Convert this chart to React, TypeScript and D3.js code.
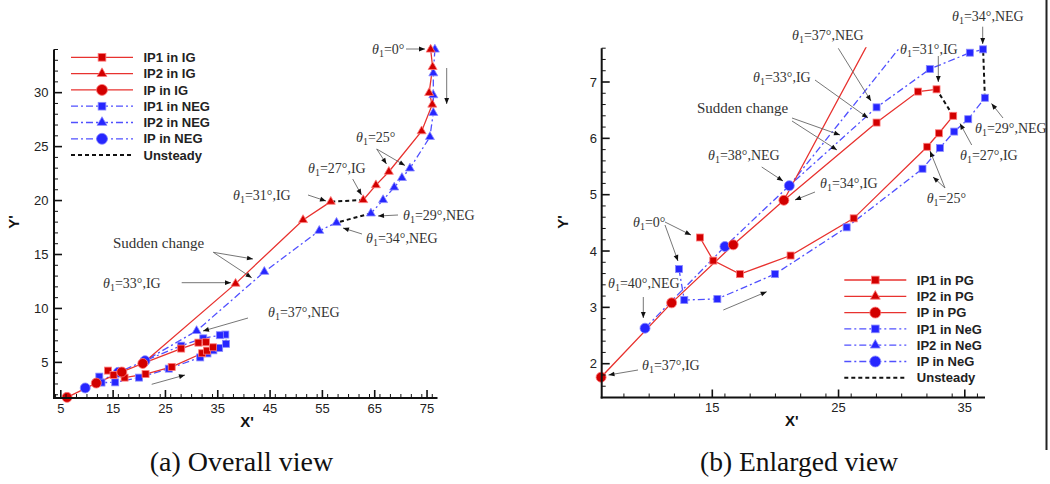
import React from 'react';
import * as d3 from 'd3';

type Pt = [number, number];

// Ideal gas (IG): θ1 = 0,5,10,15,20,25,26,27 before the jump
const ip1IGPre: Pt[] = [[14.02, 4.24], [15.08, 3.83], [17.19, 3.59], [21.2, 3.92], [26.2, 4.58], [32.02, 5.85], [32.95, 6.09], [34.08, 6.4]];
// θ1 = 31,32,33 after the jump
const ip1IGPost: Pt[] = [[32.76, 6.87], [31.3, 6.83], [28.01, 6.28]];
const ip2IGPre: Pt[] = [[75.69, 34.0], [76.07, 32.39], [75.4, 29.98], [76.0, 28.9], [73.97, 26.43], [67.7, 22.67], [65.23, 21.43], [62.8, 20.05]];
const ip2IGPost: Pt[] = [[56.6, 19.9], [51.3, 18.2], [38.4, 12.3]];
// θ1 = 34..37, single intersection point
const ipIG: Pt[] = [[20.67, 4.9], [16.66, 4.11], [11.78, 3.08], [6.19, 1.76]];

// Non-equilibrium gas (NEG): θ1 = 0,5,10,15,20,25,26,27,28,29 before the jump
const ip1NEGPre: Pt[] = [[12.36, 3.68], [12.78, 3.13], [15.4, 3.15], [19.96, 3.59], [25.64, 4.42], [31.65, 5.46], [33.03, 5.83], [34.16, 6.12], [35.27, 6.34], [36.59, 6.72]];
// θ1 = 34..37 after the jump
const ip1NEGPost: Pt[] = [[36.45, 7.58], [35.4, 7.52], [32.23, 7.23], [28.01, 6.55]];
const ip2NEGPre: Pt[] = [[76.5, 34.0], [76.2, 31.8], [76.2, 29.77], [76.2, 28.13], [75.55, 25.9], [71.73, 22.98], [70.2, 22.1], [68.73, 21.22], [66.6, 20.05], [64.27, 18.81]];
const ip2NEGPost: Pt[] = [[57.7, 17.95], [54.4, 17.2], [43.9, 13.4], [30.95, 7.92]];
// θ1 = 38..40
const ipNEG: Pt[] = [[21.1, 5.16], [16.0, 4.08], [9.67, 2.63]];

const legendA = ['IP1 in IG', 'IP2 in IG', 'IP in IG', 'IP1 in NEG', 'IP2 in NEG', 'IP in NEG', 'Unsteady'];
const legendB = ['IP1 in PG', 'IP2 in PG', 'IP in PG', 'IP1 in NeG', 'IP2 in NeG', 'IP in NeG', 'Unsteady'];

const xMajorA = [5, 15, 25, 35, 45, 55, 65, 75];
const yMajorA = [5, 10, 15, 20, 25, 30];
const xMajorB = [15, 25, 35];
const yMajorB = [2, 3, 4, 5, 6, 7];

const RED = { line: '#e8322f', fill: '#d20000', edge: '#ff7a7a', dash: undefined as string | undefined };
const BLUE = { line: '#5050ff', fill: '#2626ff', edge: '#8a8aff', dash: '7,3,2,3' };

const SANS = "'Liberation Sans', Arial, Helvetica, sans-serif";
const SERIF = "'Liberation Serif', 'Times New Roman', serif";

const groups = [
  { st: BLUE, ip1Pre: ip1NEGPre, ip1Post: ip1NEGPost, ip2Pre: ip2NEGPre, ip2Post: ip2NEGPost, ip: ipNEG },
  { st: RED, ip1Pre: ip1IGPre, ip1Post: ip1IGPost, ip2Pre: ip2IGPre, ip2Post: ip2IGPost, ip: ipIG },
];

type Shape = 'square' | 'triangle' | 'circle';

function Mark({ shape, cx, cy, fill, edge, k = 1 }: { shape: Shape; cx: number; cy: number; fill: string; edge: string; k?: number }) {
  if (shape === 'square') {
    const s = 7 * k;
    return <rect x={cx - s / 2} y={cy - s / 2} width={s} height={s} fill={fill} stroke={edge} strokeWidth={0.8} />;
  }
  if (shape === 'triangle') {
    const s = 9 * k;
    const h = s * 0.87;
    return <path d={`M${cx},${cy - (2 * h) / 3}L${cx + s / 2},${cy + h / 3}L${cx - s / 2},${cy + h / 3}Z`} fill={fill} stroke={edge} strokeWidth={0.8} />;
  }
  return <circle cx={cx} cy={cy} r={5 * k} fill={fill} stroke={edge} strokeWidth={0.8} />;
}

type Cfg = {
  id: string;
  left: number; right: number; top: number; bottom: number;
  xDomain: [number, number]; yDomain: [number, number];
  xMajor: number[]; yMajor: number[]; xMinorStep: number; yMinorStep: number;
  xLabelY: number; yLabelX: number;
  xTitle: [number, number]; yTitle: [number, number];
};

const cfgA: Cfg = {
  id: 'a', left: 54, right: 437.5, top: 49.5, bottom: 398,
  xDomain: [3.7, 77], yDomain: [1.7, 34],
  xMajor: xMajorA, yMajor: yMajorA, xMinorStep: 2, yMinorStep: 1,
  xLabelY: 413, yLabelX: 48.5, xTitle: [247, 427], yTitle: [19, 222],
};
const cfgB: Cfg = {
  id: 'b', left: 601.7, right: 985, top: 48.2, bottom: 397.5,
  xDomain: [6.24, 36.6], yDomain: [1.4, 7.6],
  xMajor: xMajorB, yMajor: yMajorB, xMinorStep: 2, yMinorStep: 0.2,
  xLabelY: 411.5, yLabelX: 597, xTitle: [791.7, 425.5], yTitle: [568, 222],
};

function Panel({ cfg }: { cfg: Cfg }) {
  const x = d3.scaleLinear().domain(cfg.xDomain).range([cfg.left, cfg.right]);
  const y = d3.scaleLinear().domain(cfg.yDomain).range([cfg.bottom, cfg.top]);
  const line = d3.line<Pt>().x((d) => x(d[0])).y((d) => y(d[1]));
  const inside = (p: Pt) =>
    p[0] >= cfg.xDomain[0] - 0.2 && p[0] <= cfg.xDomain[1] + 0.2 && p[1] >= cfg.yDomain[0] - 0.08 && p[1] <= cfg.yDomain[1] + 0.08;

  const xMinor = d3.range(Math.ceil(cfg.xDomain[0] / cfg.xMinorStep) * cfg.xMinorStep, cfg.xDomain[1] + 1e-6, cfg.xMinorStep)
    .filter((v) => !cfg.xMajor.some((m) => Math.abs(m - v) < 1e-6));
  const yMinor = d3.range(Math.ceil(cfg.yDomain[0] / cfg.yMinorStep - 1e-6) * cfg.yMinorStep, cfg.yDomain[1] + 1e-6, cfg.yMinorStep)
    .filter((v) => !cfg.yMajor.some((m) => Math.abs(m - v) < 1e-6));

  const clip = `clip-${cfg.id}`;
  return (
    <g>
      <defs>
        <clipPath id={clip}>
          <rect x={cfg.left} y={cfg.top - 1} width={cfg.right - cfg.left + 1} height={cfg.bottom - cfg.top + 1} />
        </clipPath>
      </defs>
      <g clipPath={`url(#${clip})`} fill="none">
        {groups.map((g, i) => (
          <g key={i}>
            <path d={line(g.ip1Pre) || ''} stroke={g.st.line} strokeWidth={1.3} strokeDasharray={g.st.dash} />
            <path d={line([...g.ip1Post, g.ip[0]]) || ''} stroke={g.st.line} strokeWidth={1.3} strokeDasharray={g.st.dash} />
            <path d={line(g.ip2Pre) || ''} stroke={g.st.line} strokeWidth={1.3} strokeDasharray={g.st.dash} />
            <path d={line([...g.ip2Post, g.ip[0]]) || ''} stroke={g.st.line} strokeWidth={1.3} strokeDasharray={g.st.dash} />
            <path d={line(g.ip) || ''} stroke={g.st.line} strokeWidth={1.3} strokeDasharray={g.st.dash} />
            <path d={line([g.ip1Pre[g.ip1Pre.length - 1], g.ip1Post[0]]) || ''} stroke="#111" strokeWidth={2} strokeDasharray="4,3" />
            <path d={line([g.ip2Pre[g.ip2Pre.length - 1], g.ip2Post[0]]) || ''} stroke="#111" strokeWidth={2} strokeDasharray="4,3" />
          </g>
        ))}
      </g>
      {groups.map((g, i) => (
        <g key={i}>
          {[...g.ip1Pre, ...g.ip1Post].filter(inside).map((p, j) => (
            <Mark key={'s' + j} shape="square" cx={x(p[0])} cy={y(p[1])} fill={g.st.fill} edge={g.st.edge} />
          ))}
          {[...g.ip2Pre, ...g.ip2Post].filter(inside).map((p, j) => (
            <Mark key={'t' + j} shape="triangle" cx={x(p[0])} cy={y(p[1])} fill={g.st.fill} edge={g.st.edge} />
          ))}
          {g.ip.filter(inside).map((p, j) => (
            <Mark key={'c' + j} shape="circle" cx={x(p[0])} cy={y(p[1])} fill={g.st.fill} edge={g.st.edge} />
          ))}
        </g>
      ))}
      {/* axes */}
      <g stroke="#111">
        <line x1={cfg.left} x2={cfg.left} y1={cfg.top} y2={cfg.bottom + 1} strokeWidth={2} />
        <line x1={cfg.left - 1} x2={cfg.right} y1={cfg.bottom} y2={cfg.bottom} strokeWidth={2} />
        {cfg.xMajor.map((v) => (
          <line key={'xM' + v} x1={x(v)} x2={x(v)} y1={cfg.bottom} y2={cfg.bottom - 8} strokeWidth={1.6} />
        ))}
        {xMinor.map((v) => (
          <line key={'xm' + v} x1={x(v)} x2={x(v)} y1={cfg.bottom} y2={cfg.bottom - 4} strokeWidth={1} />
        ))}
        {cfg.yMajor.map((v) => (
          <line key={'yM' + v} x1={cfg.left} x2={cfg.left + 8} y1={y(v)} y2={y(v)} strokeWidth={1.6} />
        ))}
        {yMinor.map((v) => (
          <line key={'ym' + v} x1={cfg.left} x2={cfg.left + 4} y1={y(v)} y2={y(v)} strokeWidth={1} />
        ))}
      </g>
      <g fontFamily={SANS} fontSize={13} fill="#222">
        {cfg.xMajor.map((v) => (
          <text key={'xl' + v} x={x(v)} y={cfg.xLabelY} textAnchor="middle">{v}</text>
        ))}
        {cfg.yMajor.map((v) => (
          <text key={'yl' + v} x={cfg.yLabelX} y={y(v) + 4.6} textAnchor="end">{v}</text>
        ))}
      </g>
      <text x={cfg.xTitle[0]} y={cfg.xTitle[1]} fontFamily={SANS} fontWeight="bold" fontSize={15} textAnchor="middle" fill="#111">X'</text>
      <text transform={`translate(${cfg.yTitle[0]},${cfg.yTitle[1]}) rotate(-90)`} fontFamily={SANS} fontWeight="bold" fontSize={15} textAnchor="middle" fill="#111">Y'</text>
    </g>
  );
}

function Legend({ x0, y0, labels }: { x0: number; y0: number; labels: string[] }) {
  const shapes: Shape[] = ['square', 'triangle', 'circle'];
  return (
    <g>
      {labels.map((lab, i) => {
        const yy = y0 + i * 16.3;
        const unsteady = i === 6;
        const st = i < 3 ? RED : BLUE;
        return (
          <g key={lab}>
            <line x1={x0} x2={x0 + 62} y1={yy} y2={yy}
              stroke={unsteady ? '#111' : st.line} strokeWidth={unsteady ? 2 : 1.3}
              strokeDasharray={unsteady ? '4,3' : st.dash} />
            {!unsteady && <Mark shape={shapes[i % 3]} cx={x0 + 31} cy={yy} fill={st.fill} edge={st.edge} k={1.1} />}
            <text x={x0 + 72.5} y={yy + 4.6} fontFamily={SANS} fontWeight="bold" fontSize={13} fill="#222">{lab}</text>
          </g>
        );
      })}
    </g>
  );
}

type Note = { x: number; y: number; t: string; theta?: boolean };
type Arrow = [number, number, number, number];

const notesA: Note[] = [
  { x: 372, y: 54, t: '=0°', theta: true },
  { x: 356, y: 142, t: '=25°', theta: true },
  { x: 308, y: 173, t: '=27°,IG', theta: true },
  { x: 233, y: 200, t: '=31°,IG', theta: true },
  { x: 403, y: 220, t: '=29°,NEG', theta: true },
  { x: 366, y: 243, t: '=34°,NEG', theta: true },
  { x: 113, y: 248, t: 'Sudden change' },
  { x: 103, y: 288, t: '=33°,IG', theta: true },
  { x: 268, y: 317, t: '=37°,NEG', theta: true },
];
const arrowsA: Arrow[] = [
  [406, 49, 425, 49], [446.7, 68, 446.7, 104], [376.7, 149, 386.5, 164], [376.7, 149, 405, 165.5],
  [352.7, 179, 361.5, 195], [308, 195, 326, 201], [398, 215, 378, 216], [362, 234, 343, 228],
  [213.3, 252.3, 253, 259], [213.3, 252.3, 251.7, 277.7], [181.7, 282.7, 231, 282.7],
  [248, 318, 203, 331], [151.7, 384.3, 185, 375],
];
const notesB: Note[] = [
  { x: 952, y: 21, t: '=34°,NEG', theta: true },
  { x: 792, y: 40, t: '=37°,NEG', theta: true },
  { x: 900, y: 54, t: '=31°,IG', theta: true },
  { x: 753, y: 82, t: '=33°,IG', theta: true },
  { x: 697, y: 113, t: 'Sudden change' },
  { x: 975, y: 133, t: '=29°,NEG', theta: true },
  { x: 708, y: 160, t: '=38°,NEG', theta: true },
  { x: 960, y: 160, t: '=27°,IG', theta: true },
  { x: 820, y: 188, t: '=34°,IG', theta: true },
  { x: 926.7, y: 203, t: '=25°', theta: true },
  { x: 633, y: 227, t: '=0°', theta: true },
  { x: 608, y: 288, t: '=40°,NEG', theta: true },
  { x: 642, y: 370, t: '=37°,IG', theta: true },
];
const arrowsB: Arrow[] = [
  [982.7, 26.7, 982.7, 44], [838.3, 48.3, 871, 101], [938.3, 56, 938.3, 82], [815, 80, 868, 118],
  [792, 118, 840, 135], [792, 121, 837, 150], [1003, 118, 991.5, 103.5], [761.7, 167, 783, 181],
  [971.7, 145, 960, 123.5], [815, 192, 795, 200], [945, 188, 930, 151], [945, 188, 933, 177],
  [665, 222, 691, 235], [665, 225, 678, 261], [643.3, 297, 643.3, 318], [638, 370, 608.5, 375],
  [723.3, 310, 766.7, 291.7],
];

function Notes({ notes, arrows }: { notes: Note[]; arrows: Arrow[] }) {
  return (
    <g>
      {arrows.map((a, i) => (
        <line key={i} x1={a[0]} y1={a[1]} x2={a[2]} y2={a[3]} stroke="#666" strokeWidth={0.9} markerEnd="url(#head)" />
      ))}
      {notes.map((n, i) => (
        <text key={i} x={n.x} y={n.y} fontFamily={SERIF} fontSize={n.theta ? 14 : 15} fill="#333">
          {n.theta ? (
            <>
              <tspan fontStyle="italic">θ</tspan>
              <tspan fontSize={10} dy={3}>1</tspan>
              <tspan dy={-3}>{n.t}</tspan>
            </>
          ) : n.t}
        </text>
      ))}
    </g>
  );
}

export default function App() {
  return (
    <svg width={1050} height={484} viewBox="0 0 1050 484"
      style={{ position: 'absolute', left: 0, top: 0, background: '#fff' }}>
      <defs>
        <marker id="head" viewBox="0 0 10 10" refX={10} refY={5} markerWidth={7} markerHeight={6}
          orient="auto" markerUnits="userSpaceOnUse">
          <path d="M0,1L10,5L0,9Z" fill="#111" />
        </marker>
      </defs>
      <rect width={1050} height={484} fill="#fff" />
      <Panel cfg={cfgA} />
      <Panel cfg={cfgB} />
      <Legend x0={71} y0={57.3} labels={legendA} />
      <Legend x0={844.3} y0={280} labels={legendB} />
      <Notes notes={notesA} arrows={arrowsA} />
      <Notes notes={notesB} arrows={arrowsB} />
      <text x={241.5} y={471} textAnchor="middle" fontFamily={SERIF} fontSize={28} fill="#111">(a) Overall view</text>
      <text x={799} y={471} textAnchor="middle" fontFamily={SERIF} fontSize={27.5} fill="#111">(b) Enlarged view</text>
      <line x1={1046.5} x2={1046.5} y1={0} y2={450} stroke="#222" strokeWidth={2} />
    </svg>
  );
}
